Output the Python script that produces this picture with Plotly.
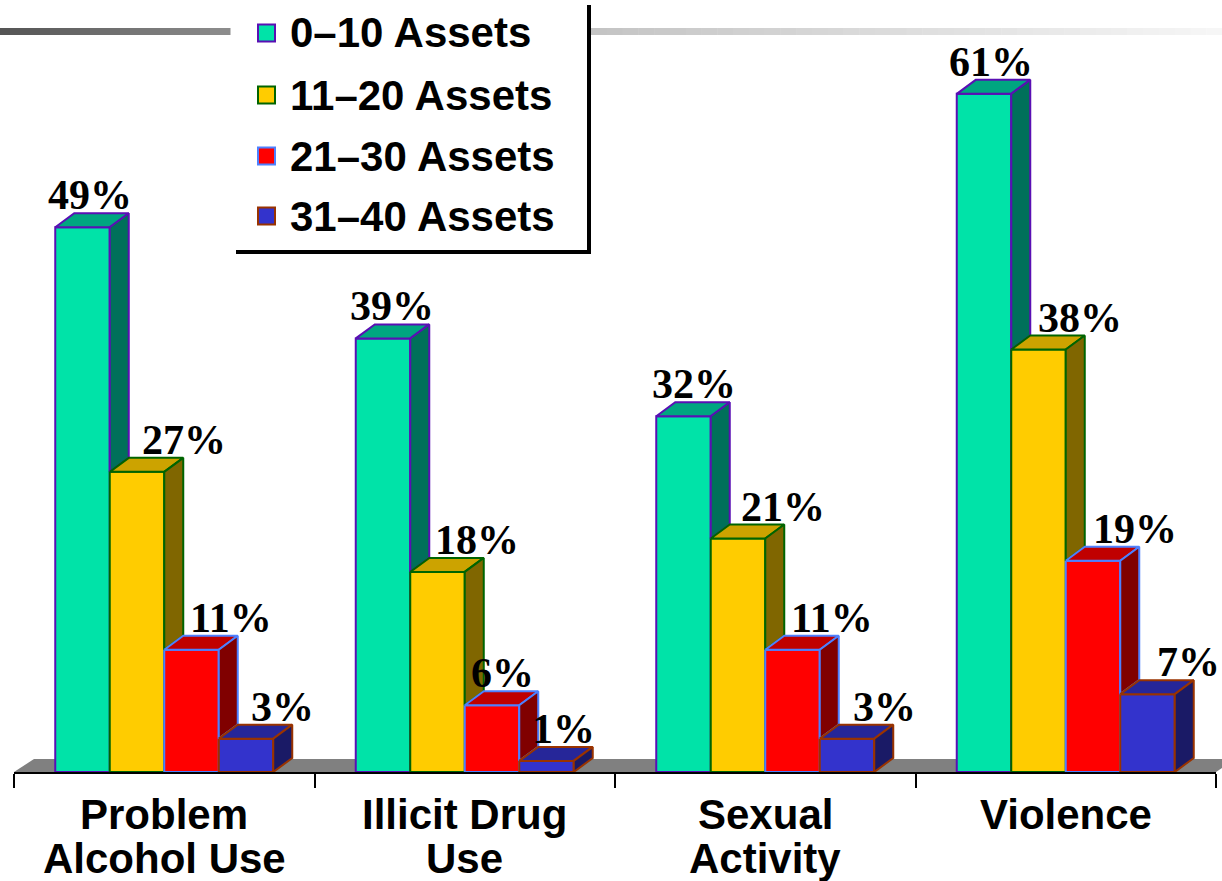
import plotly.graph_objects as go

# ---- data -------------------------------------------------------------
category_lines = [["Problem", "Alcohol Use"], ["Illicit Drug", "Use"],
                  ["Sexual", "Activity"], ["Violence"]]
series_names = ["0–10 Assets", "11–20 Assets", "21–30 Assets", "31–40 Assets"]
assets_0_10 = [49, 39, 32, 61]
assets_11_20 = [27, 18, 21, 38]
assets_21_30 = [11, 6, 11, 19]
assets_31_40 = [3, 1, 3, 7]
series_values = [assets_0_10, assets_11_20, assets_21_30, assets_31_40]

# ---- styling ----------------------------------------------------------
front_colors = ["#00E3A8", "#FFCC00", "#FF0000", "#3333CC"]
top_colors = ["#00A680", "#CCA300", "#C00000", "#262699"]
side_colors = ["#00705A", "#806600", "#800000", "#1A1A66"]
edge_colors = ["#5A0FB4", "#006400", "#4D80FF", "#993300"]

# horizontal nudge (px) of each value label from its bar's front centre,
# indexed [series][category]
label_nudge = [[7, 9, 10, 7],
               [47, 39, 45, 41],
               [39, 10, 39, 42],
               [36, 17, 37, 41]]

W, H = 1222, 881
ML, MR, MT, MB = 14, 6, 16, 109
Y_MAX = 68
plot_w = W - ML - MR
plot_h = H - MT - MB
x_unit = plot_w / 4.0          # pixels per category
y_unit = plot_h / Y_MAX        # pixels per percent

bar_w = 54.5 / x_unit          # bar width in category units
depth_x = 19 / x_unit          # 3D depth offset (x)
depth_y = 14 / y_unit          # 3D depth offset (y)

SANS = "Liberation Sans, Arial, sans-serif"
SERIF = "Liberation Serif, Times New Roman, serif"


def px(x):
    return (x - ML) / plot_w


def py(y):
    return (H - MB - y) / plot_h


groups = list(range(len(category_lines)))
fig = go.Figure()

# front faces
for j, vals in enumerate(series_values):
    fig.add_trace(go.Bar(
        x=groups, y=vals, width=bar_w, offset=(j - 2) * bar_w,
        name=series_names[j],
        marker=dict(color=front_colors[j],
                    line=dict(color=edge_colors[j], width=2)),
        hoverinfo="skip", showlegend=False,
    ))

# top and side faces
for j, vals in enumerate(series_values):
    tx, ty, sx, sy = [], [], [], []
    for g in groups:
        v = vals[g]
        x0 = g + (j - 2) * bar_w
        x1 = x0 + bar_w
        tx += [x0, x1, x1 + depth_x, x0 + depth_x, x0, None]
        ty += [v, v, v + depth_y, v + depth_y, v, None]
        # the part of the side hidden by the next bar is left out
        low = series_values[j + 1][g] if j + 1 < len(series_values) else 0
        sx += [x1, x1, x1 + depth_x, x1 + depth_x, x1, None]
        sy += [low, v, v + depth_y, low + depth_y, low, None]
    fig.add_trace(go.Scatter(
        x=tx, y=ty, mode="lines", fill="toself", fillcolor=top_colors[j],
        line=dict(color=edge_colors[j], width=2),
        hoverinfo="skip", showlegend=False))
    fig.add_trace(go.Scatter(
        x=sx, y=sy, mode="lines", fill="toself", fillcolor=side_colors[j],
        line=dict(color=edge_colors[j], width=2),
        hoverinfo="skip", showlegend=False))

annotations = []
# value labels above each bar
for j, vals in enumerate(series_values):
    for g in groups:
        v = vals[g]
        annotations.append(dict(
            x=g + (j - 2) * bar_w + bar_w / 2, y=v + depth_y,
            xref="x", yref="y", text=f"{v}%", showarrow=False,
            xanchor="center", yanchor="bottom",
            xshift=label_nudge[j][g], yshift=-6, borderpad=0,
            font=dict(family=SERIF, size=42, color="black", weight="bold")))

# category labels, one annotation per line
for g, lines in enumerate(category_lines):
    for k, line in enumerate(lines):
        annotations.append(dict(
            x=g, y=0, xref="x", yref="y", text=line, showarrow=False,
            xanchor="center", yanchor="middle", yshift=-42 - 44 * k,
            font=dict(family=SANS, size=42, color="black", weight="bold")))

shapes = []
# floor
fdx = 20 / plot_w
fdy = 13 / plot_h
shapes.append(dict(
    type="path", xref="paper", yref="paper", layer="below",
    path=f"M 0 0 L 1 0 L {1 + fdx} {fdy} L {fdx} {fdy} Z",
    fillcolor="#808080", line=dict(width=0)))


# decorative gradient rules at the top
def rule(x_start, x_end, c_start, c_end, n):
    step = (x_end - x_start) / n
    for i in range(n):
        c = round(c_start + (c_end - c_start) * i / (n - 1))
        shapes.append(dict(
            type="rect", xref="paper", yref="paper",
            x0=px(x_start + i * step), x1=px(x_start + (i + 1) * step + 0.5),
            y0=py(35), y1=py(28),
            fillcolor=f"rgb({c},{c},{c})", line=dict(width=0)))


rule(0, 230, 85, 140, 23)
rule(591, 1222, 196, 246, 40)

# legend box with shadow edges
shapes.append(dict(type="rect", xref="paper", yref="paper",
                   x0=px(232), x1=px(589), y0=py(252), y1=py(0),
                   fillcolor="white", line=dict(width=0)))
shapes.append(dict(type="line", xref="paper", yref="paper",
                   x0=px(589), x1=px(589), y0=py(5), y1=py(254),
                   line=dict(color="black", width=4)))
shapes.append(dict(type="line", xref="paper", yref="paper",
                   x0=px(236), x1=px(591), y0=py(252), y1=py(252),
                   line=dict(color="black", width=4)))

legend_rows = [33, 95, 156, 216]
for j, name in enumerate(series_names):
    yc = legend_rows[j]
    shapes.append(dict(type="rect", xref="paper", yref="paper",
                       x0=px(258), x1=px(275), y0=py(yc + 8.5), y1=py(yc - 8.5),
                       fillcolor=front_colors[j],
                       line=dict(color=edge_colors[j], width=2)))
    annotations.append(dict(
        x=px(288), y=py(yc), xref="paper", yref="paper", text=name,
        showarrow=False, xanchor="left", yanchor="middle",
        font=dict(family=SANS, size=42, color="black", weight="bold")))

fig.update_layout(
    width=W, height=H,
    margin=dict(l=ML, r=MR, t=MT, b=MB),
    paper_bgcolor="white", plot_bgcolor="white",
    barmode="overlay",
    xaxis=dict(range=[-0.5, 3.5], tickvals=[-0.5, 0.5, 1.5, 2.5, 3.5],
               ticktext=["", "", "", "", ""], ticks="outside", ticklen=14,
               tickwidth=2, tickcolor="black", showline=True,
               linecolor="black", linewidth=2, showgrid=False,
               zeroline=False, fixedrange=True),
    yaxis=dict(range=[0, Y_MAX], visible=False, fixedrange=True),
    shapes=shapes, annotations=annotations, showlegend=False,
)

fig.write_html("out.html")
